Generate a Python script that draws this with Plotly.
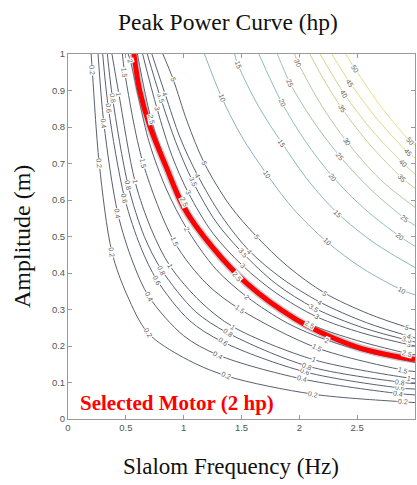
import numpy as np
import plotly.graph_objects as go

# ---------------- data ----------------
# contour levels (hp)
levels = [0.2, 0.4, 0.6, 0.8, 1, 1.5, 2, 2.5, 3, 3.5, 4, 5, 10, 15, 20, 25, 30, 35, 40, 45, 50]

# points (frequency Hz, amplitude m) along each contour line
F_0_2 = [0.20, 0.21, 0.27, 0.38, 0.51, 0.69, 1.00, 1.37, 2.12, 2.90, 3.00]
A_0_2 = [1.00, 0.955, 0.70, 0.457, 0.34, 0.236, 0.168, 0.118, 0.068, 0.047, 0.045]
F_0_4 = [0.26, 0.31, 0.43, 0.56, 0.70, 1.00, 1.30, 2.02, 2.85, 3.00]
A_0_4 = [1.00, 0.81, 0.564, 0.43, 0.335, 0.228, 0.175, 0.11, 0.07, 0.066]
F_0_6 = [0.30, 0.35, 0.49, 0.63, 0.77, 1.05, 1.34, 2.05, 2.87, 3.00]
A_0_6 = [1.00, 0.85, 0.605, 0.47, 0.38, 0.27, 0.211, 0.129, 0.085, 0.082]
F_0_8 = [0.34, 0.385, 0.52, 0.66, 0.81, 1.10, 1.38, 2.07, 2.87, 3.00]
A_0_8 = [1.00, 0.88, 0.64, 0.50, 0.408, 0.295, 0.236, 0.145, 0.101, 0.097]
F_1 = [0.38, 0.44, 0.58, 0.72, 0.88, 1.15, 1.43, 2.13, 2.95, 3.00]
A_1 = [1.00, 0.89, 0.65, 0.52, 0.42, 0.32, 0.252, 0.162, 0.112, 0.110]
F_1_5 = [0.47, 0.49, 0.65, 0.92, 1.20, 1.49, 2.15, 2.90, 3.00]
A_1_5 = [1.00, 0.95, 0.70, 0.485, 0.37, 0.30, 0.195, 0.134, 0.130]
F_2 = [0.52, 0.54, 0.70, 0.85, 1.03, 1.28, 1.55, 1.90, 2.24, 2.60, 3.00]
A_2 = [1.00, 0.98, 0.76, 0.63, 0.52, 0.41, 0.334, 0.262, 0.216, 0.182, 0.155]
F_2_5 = [0.60, 0.72, 0.85, 1.00, 1.22, 1.46, 1.75, 2.09, 2.50, 2.93, 3.00]
A_2_5 = [1.00, 0.82, 0.70, 0.595, 0.48, 0.39, 0.32, 0.26, 0.215, 0.18, 0.176]
F_3 = [0.645, 0.77, 0.90, 1.04, 1.25, 1.51, 1.80, 2.15, 2.55, 3.00]
A_3 = [1.00, 0.85, 0.72, 0.62, 0.51, 0.42, 0.345, 0.28, 0.235, 0.20]
F_3_5 = [0.685, 0.80, 0.93, 1.08, 1.28, 1.51, 1.80, 2.13, 2.55, 3.00]
A_3_5 = [1.00, 0.88, 0.76, 0.65, 0.54, 0.455, 0.37, 0.304, 0.25, 0.211]
F_4 = [0.725, 0.84, 0.97, 1.12, 1.33, 1.57, 1.85, 2.18, 2.58, 3.00]
A_4 = [1.00, 0.89, 0.77, 0.668, 0.555, 0.46, 0.385, 0.32, 0.264, 0.222]
F_5 = [0.82, 0.91, 1.03, 1.18, 1.40, 1.63, 1.90, 2.22, 2.60, 3.00]
A_5 = [1.00, 0.93, 0.815, 0.70, 0.585, 0.50, 0.418, 0.345, 0.288, 0.244]
F_10 = [1.18, 1.33, 1.50, 1.72, 1.95, 2.24, 2.55, 2.89, 3.00]
A_10 = [1.00, 0.88, 0.775, 0.67, 0.575, 0.485, 0.412, 0.353, 0.34]
F_15 = [1.44, 1.47, 1.65, 1.85, 2.08, 2.33, 2.65, 3.00]
A_15 = [1.00, 0.97, 0.855, 0.756, 0.652, 0.564, 0.482, 0.415]
F_20 = [1.65, 1.85, 2.05, 2.29, 2.57, 2.87, 3.00]
A_20 = [1.00, 0.866, 0.762, 0.663, 0.574, 0.50, 0.473]
F_25 = [1.81, 1.92, 2.12, 2.35, 2.62, 2.91, 3.00]
A_25 = [1.00, 0.92, 0.816, 0.72, 0.628, 0.55, 0.53]
F_30 = [1.96, 1.99, 2.20, 2.41, 2.70, 3.00]
A_30 = [1.00, 0.975, 0.855, 0.76, 0.656, 0.58]
F_35 = [2.09, 2.23, 2.37, 2.62, 2.89, 3.00]
A_35 = [1.00, 0.92, 0.85, 0.748, 0.66, 0.632]
F_40 = [2.18, 2.39, 2.63, 2.90, 3.00]
A_40 = [1.00, 0.89, 0.79, 0.70, 0.671]
F_45 = [2.28, 2.44, 2.68, 2.94, 3.00]
A_45 = [1.00, 0.92, 0.819, 0.73, 0.715]
F_50 = [2.40, 2.48, 2.72, 2.96, 3.00]
A_50 = [1.00, 0.96, 0.85, 0.76, 0.75]

# frequencies at which an inline level label sits on each contour
LAB_0_2 = [0.21, 0.27, 0.38, 0.69, 1.37, 2.12, 2.90]
LAB_0_4 = [0.31, 0.43, 0.70, 1.30, 2.02, 2.85]
LAB_0_6 = [0.35, 0.49, 0.77, 1.34, 2.05, 2.87]
LAB_0_8 = [0.385, 0.52, 0.81, 1.38, 2.07, 2.87]
LAB_1 = [0.44, 0.58, 0.88, 1.43, 2.13, 2.95]
LAB_1_5 = [0.49, 0.65, 0.92, 1.49, 2.15, 2.90]
LAB_2 = [0.54, 1.03, 1.55, 2.24]
LAB_2_5 = [0.72, 1.00, 1.46, 2.09, 2.93]
LAB_3 = [0.77, 1.04, 1.51, 2.15, 2.95]
LAB_3_5 = [0.80, 1.08, 1.51, 2.13, 2.93]
LAB_4 = [0.84, 1.12, 1.57, 2.18, 2.95]
LAB_5 = [0.91, 1.18, 1.63, 2.22, 2.93]
LAB_10 = [1.33, 1.72, 2.24, 2.89]
LAB_15 = [1.47, 1.85, 2.33]
LAB_20 = [1.85, 2.29, 2.87]
LAB_25 = [1.92, 2.35, 2.91]
LAB_30 = [1.99, 2.41]
LAB_35 = [2.37, 2.89]
LAB_40 = [2.39, 2.90]
LAB_45 = [2.44, 2.94]
LAB_50 = [2.48, 2.96]

# selected motor (2 hp) curve, drawn in red
SEL_F = [0.57, 0.62, 0.71, 0.85, 1.00, 1.25, 1.55, 1.96, 2.25, 2.54, 2.83, 3.00]
SEL_A = [1.00, 0.90, 0.80, 0.69, 0.58, 0.47, 0.37, 0.275, 0.228, 0.193, 0.172, 0.163]

x_ticks = [0, 0.5, 1, 1.5, 2, 2.5, 3]
x_tick_text = ["0", "0.5", "1", "1.5", "2", "2.5", "3"]
y_ticks = [0, 0.1, 0.2, 0.3, 0.4, 0.5, 0.6, 0.7, 0.8, 0.9, 1]
y_tick_text = ["0", "0.1", "0.2", "0.3", "0.4", "0.5", "0.6", "0.7", "0.8", "0.9", "1"]

# line colour per level
level_colors = ["#5a6070"] * 12 + ["#8fb3bf", "#8ab9c0", "#8fbfb9", "#a0c6ad",
                                    "#b3cca0", "#c5d195", "#d4d68d", "#e1da86", "#eadd82"]

# ---------------- figure ----------------
contour_f = [F_0_2, F_0_4, F_0_6, F_0_8, F_1, F_1_5, F_2, F_2_5, F_3, F_3_5, F_4, F_5,
             F_10, F_15, F_20, F_25, F_30, F_35, F_40, F_45, F_50]
contour_a = [A_0_2, A_0_4, A_0_6, A_0_8, A_1, A_1_5, A_2, A_2_5, A_3, A_3_5, A_4, A_5,
             A_10, A_15, A_20, A_25, A_30, A_35, A_40, A_45, A_50]
contour_lab = [LAB_0_2, LAB_0_4, LAB_0_6, LAB_0_8, LAB_1, LAB_1_5, LAB_2, LAB_2_5, LAB_3,
               LAB_3_5, LAB_4, LAB_5, LAB_10, LAB_15, LAB_20, LAB_25, LAB_30, LAB_35,
               LAB_40, LAB_45, LAB_50]

W, H = 417, 485
PLOT_L, PLOT_R, PLOT_T, PLOT_B = 68, 415, 54, 419          # plot area in pixels
ML = PLOT_L
MR = W - PLOT_R
MT = PLOT_T
MB = H - PLOT_B
PW = PLOT_R - PLOT_L
PH = PLOT_B - PLOT_T
px_per_f = PW / 3.0
px_per_a = PH / 1.0


def paper_x(px):
    return (px - PLOT_L) / PW


def paper_y(py):
    return (PLOT_B - py) / PH


fig = go.Figure()
annotations = []

for lev, fs, As, labs, col in zip(levels, contour_f, contour_a, contour_lab, level_colors):
    fig.add_trace(go.Scatter(x=fs, y=As, mode="lines",
                             line=dict(color=col, width=1, shape="spline", smoothing=0.9),
                             hoverinfo="skip", showlegend=False))
    fa = np.array(fs, dtype=float)
    aa = np.array(As, dtype=float)
    for fl in labs:
        al = float(np.interp(fl, fa, aa))
        i = int(np.clip(np.searchsorted(fa, fl) - 1, 0, len(fa) - 2))
        dx = (fa[i + 1] - fa[i]) * px_per_f
        dy = (aa[i] - aa[i + 1]) * px_per_a
        ang = float(np.degrees(np.arctan2(dy, dx)))
        txt = ("%g" % lev)
        annotations.append(dict(x=fl, y=al, xref="x", yref="y", text=txt, showarrow=False,
                                textangle=ang, bgcolor="white", borderpad=0,
                                font=dict(family="Liberation Sans, Arial", size=7, color="#606060")))

# red selected-motor curve (light shadow + red)
fig.add_trace(go.Scatter(x=SEL_F, y=SEL_A, mode="lines",
                         line=dict(color="rgba(120,120,140,0.4)", width=8, shape="spline", smoothing=0.9),
                         hoverinfo="skip", showlegend=False))
fig.add_trace(go.Scatter(x=SEL_F, y=SEL_A, mode="lines",
                         line=dict(color="#ff0000", width=5, shape="spline", smoothing=0.9),
                         hoverinfo="skip", showlegend=False))

annotations.append(dict(x=0.086, y=0.044, xref="x", yref="y", xanchor="left", yanchor="middle",
                        text="<b>Selected Motor (2 hp)</b>", showarrow=False,
                        font=dict(family="Liberation Serif, Times New Roman", size=21, color="#ff0000")))

# titles
annotations.append(dict(x=paper_x(228), y=paper_y(22), xref="paper", yref="paper",
                        text="Peak Power Curve (hp)", showarrow=False, xanchor="center", yanchor="middle",
                        font=dict(family="Liberation Serif, Times New Roman", size=23.5, color="#111111")))
annotations.append(dict(x=paper_x(231), y=paper_y(466), xref="paper", yref="paper",
                        text="Slalom Frequency (Hz)", showarrow=False, xanchor="center", yanchor="middle",
                        font=dict(family="Liberation Serif, Times New Roman", size=23, color="#111111")))
annotations.append(dict(x=paper_x(22), y=paper_y(237), xref="paper", yref="paper",
                        text="Amplitude (m)", showarrow=False, xanchor="center", yanchor="middle",
                        textangle=-90,
                        font=dict(family="Liberation Serif, Times New Roman", size=24, color="#111111")))

axis_common = dict(showgrid=False, zeroline=False, showline=True, mirror="ticks",
                   linecolor="#9a9a9a", linewidth=1, ticks="inside", ticklen=4,
                   tickcolor="#9a9a9a", automargin=False,
                   tickfont=dict(family="Liberation Sans, Arial", size=9.5, color="#555555"))

fig.update_layout(
    width=W, height=H,
    margin=dict(l=ML, r=MR, t=MT, b=MB, autoexpand=False),
    paper_bgcolor="white", plot_bgcolor="white",
    xaxis=dict(range=[0, 3], tickvals=x_ticks, ticktext=x_tick_text, **axis_common),
    yaxis=dict(range=[0, 1], tickvals=y_ticks, ticktext=y_tick_text, **axis_common),
    annotations=annotations,
    showlegend=False,
)

# remove the page's default body margin so the figure fills the window exactly
fig.write_html("out.html",
               config={"displayModeBar": False},
               post_script="document.body.style.margin='0';document.body.style.overflow='hidden';")
